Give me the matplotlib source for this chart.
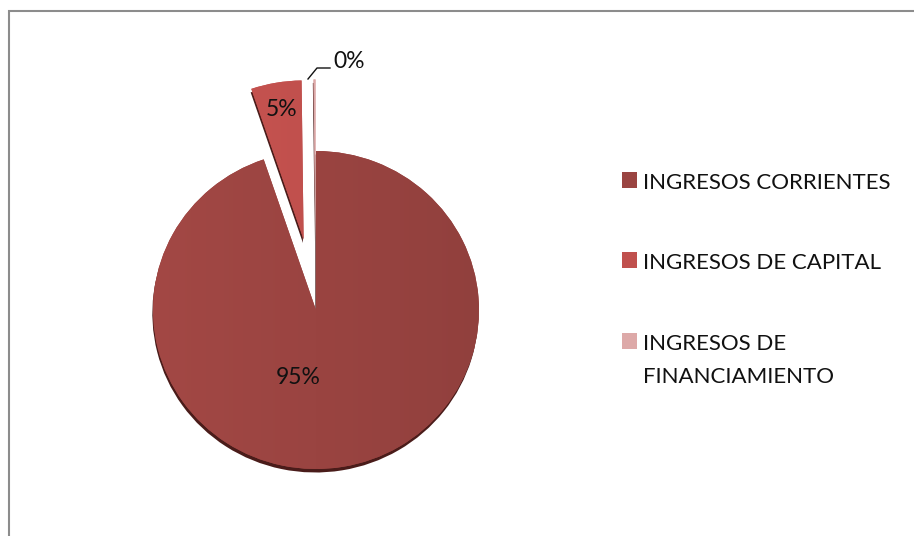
import numpy as np
import matplotlib
matplotlib.use("Agg")
import matplotlib.pyplot as plt
from matplotlib.patches import Rectangle
from matplotlib.colors import to_rgb

plt.rcParams['font.family'] = ['Lato', 'DejaVu Sans']

# Revenue composition
categories = ["INGRESOS CORRIENTES", "INGRESOS DE CAPITAL", "INGRESOS DE\nFINANCIAMIENTO"]
shares = [94.8, 5.0, 0.2]
pct_labels = ["95%", "5%", "0%"]
colors = ["#9A4441", "#C0504D", "#DDA9A8"]
explode = [0.0, 0.45, 0.45]

W, H = 914, 536
fig = plt.figure(figsize=(W / 100, H / 100), dpi=100)
ax = fig.add_axes([0, 0, 1, 1])

# drop shadow under the slices
ax.pie(shares, colors=["#4A1C1A"] * 3, startangle=90, counterclock=False,
       explode=explode, radius=1.0, center=(-0.004, -0.022),
       wedgeprops=dict(linewidth=0))
wedges, _ = ax.pie(shares, colors=colors, startangle=90, counterclock=False,
                   explode=explode, radius=1.0,
                   wedgeprops=dict(linewidth=0))

# soft left-to-right shading on each slice
for w, c in zip(wedges, colors):
    base = np.array(to_rgb(c))
    t = np.linspace(0, 1, 256)
    light = np.clip(base * 1.06, 0, 1)
    dark = base * 0.94
    grad = light[None, :] * (1 - t[:, None]) + dark[None, :] * t[:, None]
    img = ax.imshow(grad[None, :, :], extent=(-1.05, 1.05, -1.05, 1.6),
                    aspect='auto', zorder=w.get_zorder() + 0.1, interpolation='bilinear')
    img.set_clip_path(w)

# axis mapped to pixel geometry: centre (316, 310), radii 163 x 159 px
ax.set_aspect('auto')
ax.set_xlim(-316 / 163, (W - 316) / 163)
ax.set_ylim(-(H - 310) / 159, 310 / 159)
ax.axis('off')

def px(x, y):
    return (x - 316) / 163, (310 - y) / 159

# percentage labels
lbl_fs = 16.5
ax.text(*px(298, 378), pct_labels[0], ha='center', va='center', fontsize=lbl_fs, color='#111111', zorder=10)
ax.text(*px(282, 110), pct_labels[1], ha='center', va='center', fontsize=lbl_fs, color='#111111', zorder=10)
ax.text(*px(333, 62), pct_labels[2], ha='left', va='center', fontsize=lbl_fs, color='#111111', zorder=10)
lx, ly = zip(px(308, 79), px(317, 68), px(330, 68))
ax.plot(lx, ly, color='#111111', lw=1.0, zorder=10)

# legend
rows = [180, 260, 341]
for c, lab, y in zip(colors, categories, rows):
    fig.patches.append(Rectangle((622 / W, 1 - (y + 8) / H), 15 / W, 16 / H,
                                 transform=fig.transFigure, facecolor=c, edgecolor='none'))
    for i, line in enumerate(lab.split("\n")):
        fig.text(643 / W, 1 - (y + 1 + i * 33) / H, line, ha='left', va='center_baseline',
                 fontsize=16, color='#111111')

# chart frame
fig.patches.append(Rectangle((8.5 / W, -0.1), 1.2, 1 - 10.5 / H + 0.1,
                             transform=fig.transFigure, facecolor='none',
                             edgecolor='#8C8C8C', linewidth=1.5))

fig.savefig("out.png", dpi=100)
